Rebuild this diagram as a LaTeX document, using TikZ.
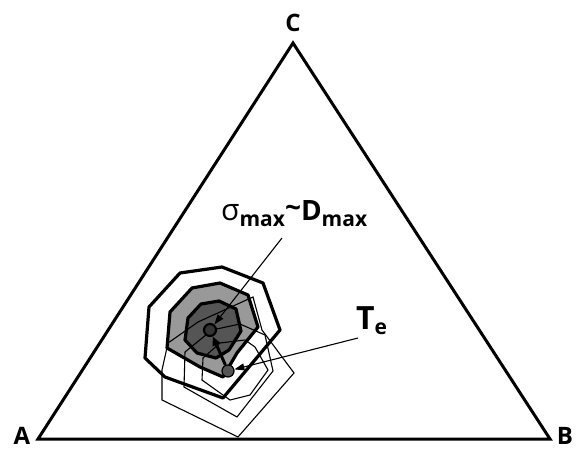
\documentclass[tikz,border=0pt]{standalone}
\usepackage{fontspec}
\setmainfont{Open Sans}
\usetikzlibrary{arrows.meta}
\definecolor{lightfill}{HTML}{999999}
\definecolor{darkfill}{HTML}{555555}
\definecolor{cenfill}{HTML}{333333}
\tikzset{
  tri/.style={line width=3pt, line join=miter},
  thickpoly/.style={line width=3.2pt, line join=round},
  thinpoly/.style={line width=1.1pt, line join=miter},
  vlabel/.style={font=\bfseries\fontsize{24}{24}\selectfont, inner sep=0pt},
  pointer/.style={line width=1.1pt, -{Triangle[length=10pt,width=7pt]}},
  dot/.style={circle, draw=black, minimum size=12pt, inner sep=0pt}
}
\begin{document}
\begin{tikzpicture}[x=1pt,y=-1pt]
\useasboundingbox (0,0) rectangle (581,450);
% triangle
\coordinate (vA) at (38,439);
\coordinate (vB) at (550,439);
\coordinate (vC) at (293,43);
\draw[tri] (vA) -- (vB) -- (vC) -- cycle;
\node[vlabel] (lA) at (22,436) {A};
\node[vlabel] (lB) at (565,436) {B};
\node[vlabel] (lC) at (293,23) {C};
% thick contours around sigma max
\draw[thickpoly] (180,273) -- (222,267) -- (263,283) -- (280,330) -- (223,398) -- (165,377) -- (145,358) -- (149,307) -- cycle;
\draw[thickpoly, fill=lightfill] (192,288) -- (220,283) -- (248,295) -- (258,327) -- (237,353) -- (223,377) -- (200,367) -- (167,348) -- (170,312) -- cycle;
\draw[thickpoly, fill=darkfill] (201,304) -- (219,301) -- (236,309) -- (241,331) -- (229,350) -- (216,358) -- (197,353) -- (185,340) -- (188,318) -- cycle;
% thin contours around Te
\draw[thinpoly] (203,358) -- (220,343) -- (245,340) -- (255,347) -- (268,370) -- (250,395) -- (230,400) -- (202,380) -- cycle;
\draw[thinpoly] (185,352) -- (212,330) -- (240,324) -- (265,335) -- (273,371) -- (237,417) -- (184,387) -- cycle;
\draw[thinpoly] (162,370) -- (168,343) -- (198,322) -- (253,297) -- (262,330) -- (294,373) -- (238,437) -- (162,400) -- cycle;
% markers
\node[dot, line width=2.2pt, fill=cenfill] (cen) at (210,330) {};
\node[dot, line width=1.2pt, fill=darkfill] (te) at (228,371) {};
\draw[line width=3pt, -{Triangle[length=9pt,width=8pt]}] (te) -- (cen);
% labels
\node[inner sep=0pt, anchor=base west] (sig) at (221,220)
  {\fontsize{30}{30}\selectfont σ\raisebox{-6pt}{\bfseries\fontsize{21}{21}\selectfont max}\bfseries\fontsize{28}{28}\selectfont\raisebox{3pt}{\textasciitilde}D\raisebox{-6pt}{\fontsize{21}{21}\selectfont max}};
\coordinate (sigfoot) at (282,238);
\draw[pointer] (sigfoot) -- (cen);
\node[inner sep=0pt, anchor=base west] (tlab) at (356,329)
  {\bfseries\fontsize{32}{32}\selectfont T\raisebox{-5pt}{\fontsize{21}{21}\selectfont e}};
\coordinate (tefoot) at (358,338);
\draw[pointer] (tefoot) -- (te);
\end{tikzpicture}
\end{document}
